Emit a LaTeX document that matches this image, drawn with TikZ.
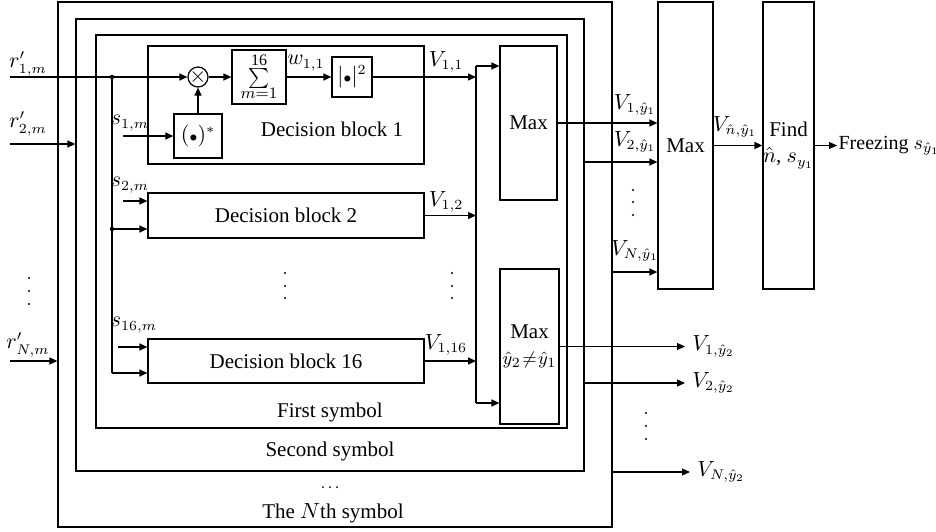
\documentclass[tikz,border=0pt]{standalone}
\usepackage{fontspec}
\setmainfont{Liberation Serif}
\usetikzlibrary{arrows.meta,fit}

\tikzset{
  blk/.style={draw, rectangle, inner sep=0pt},
  arr/.style={-{Triangle[length=4pt,width=3.5pt]}},
}

\begin{document}
\begin{tikzpicture}[x=0.5pt, y=-0.5pt, line width=0.6pt,
    font=\fontsize{10.5}{12}\selectfont]

    % 領域の固定
    \useasboundingbox (0,0) rectangle (936,531);

    % パラメータの定義
    \pgfmathsetmacro{\busx}{476}
    \pgfmathsetmacro{\splitx}{112}

    % 枠の描画
    \node[blk, fit={(58,2) (612,527)}] (nth) {};
    \node[blk, fit={(76,19) (584,471)}] (second) {};
    \node[blk, fit={(96,35) (567,428)}] (first) {};
    \node (nthlbl) at (333,513) {The $N$th symbol};
    \node (secondlbl) at (330,451) {Second symbol};
    \node (firstlbl) at (330,412) {First symbol};

    % ブロックの描画
    \node[blk, fit={(148,46) (424,164)}] (db1) {};
    \node[blk, fit={(148,193) (424,238)}] (db2) {};
    \node[blk, fit={(148,339) (424,383)}] (db16) {};
    \node[blk, fit={(232,50) (286,104)}] (sum) {};
    \node[blk, fit={(332,57) (372,97)}] (abs) {};
    \node[blk, fit={(174,114) (222,158)}] (conj) {};
    \node[draw, circle, minimum size=10pt, inner sep=0pt] (mult) at (198,77) {};
    \node[blk, fit={(500,46) (557,200)}] (max1) {};
    \node[blk, fit={(500,269) (559,424)}] (max2) {};
    \node[blk, fit={(658,2) (713,289)}] (max3) {};
    \node[blk, fit={(763,2) (814,289)}] (find) {};

    % ブロックの文字
    \node (db1lbl) at (332,129) {Decision block 1};
    \node (db2lbl) at (db2.center) {Decision block 2};
    \node (db16lbl) at (db16.center) {Decision block 16};
    \node[inner sep=0pt] (sumtop) at (259,60) {\footnotesize 16};
    \node[inner sep=0pt] (sumsig) at (259,78) {$\sum$};
    \node[inner sep=0pt] (sumbot) at (259,93) {\footnotesize $m{=}1$};
    \node (abslbl) at (abs.center) {$|{\scriptstyle\bullet}|^2$};
    \node (conjlbl) at (conj.center) {$({\scriptstyle\bullet})^*$};
    \node[inner sep=0pt] (multlbl) at (mult.center) {$\times$};
    \node (max1lbl) at (max1.center) {Max};
    \node[align=center, inner sep=0pt] (max2lbl) at (max2.center)
        {Max\\[1pt]\fontsize{9.5}{11}\selectfont$\hat{y}_2\mkern1.5mu{\neq}\mkern1.5mu\hat{y}_1$};
    \node (max3lbl) at (max3.center) {Max};
    \node[align=center, inner sep=0pt] (findlbl) at (find.center)
        {Find\\[1pt]$\hat{n}$, $s_{y_1}$};

    % 点の定義
    \coordinate (r1in) at (10,77);
    \coordinate (r2in) at (10,144);
    \coordinate (rNin) at (10,361);
    \coordinate (j1) at (\splitx,77);
    \coordinate (j2) at (\splitx,229);
    \coordinate (j3) at (\splitx,373);
    \coordinate (s1in) at (123,136);
    \coordinate (s2in) at (123,201);
    \coordinate (s16in) at (118,347);
    \coordinate (bt) at (\busx,66);
    \coordinate (bb) at (\busx,403);
    \coordinate (o2) at (584,162);
    \coordinate (o3) at (612,272);
    \coordinate (p2) at (584,383);
    \coordinate (p3) at (612,472);

    % 出力ラベル
    \node[anchor=west, inner sep=0.5pt, font=\fontsize{10}{12}\selectfont] (frz)
        at (837,145.5) {Freezing $s_{\hat{y}_1}$};
    \node[anchor=west] (v1y2) at (685,346.5) {$V_{1,\hat{y}_2}$};
    \node[anchor=west] (v2y2) at (685,383) {$V_{2,\hat{y}_2}$};
    \node[anchor=west] (vNy2) at (690,472) {$V_{N,\hat{y}_2}$};

    % 入力線の描画
    \draw[arr] (r1in) -- (mult);
    \draw (j1) -- (j3);
    \draw[arr] (j2) -- (j2 -| db2.west);
    \draw[arr] (j3) -- (j3 -| db16.west);
    \draw[arr] (r2in) -- (r2in -| second.west);
    \draw[arr] (rNin) -- (rNin -| nth.west);
    \draw[arr] (s1in) -- (conj);
    \draw[arr] (s2in) -- (s2in -| db2.west);
    \draw[arr] (s16in) -- (s16in -| db16.west);

    % 判定ブロック1の中
    \draw[arr] (conj) -- (mult);
    \draw[arr] (mult) -- (sum);
    \draw[arr] (sum) -- (abs);
    \draw[arr] (abs) -- (abs -| bt);

    % 判定ブロックからMaxへ
    \draw[arr] (db2) -- (db2 -| bt);
    \draw[arr] (db16) -- (db16 -| bt);
    \draw (bt) -- (bb);
    \draw[arr] (bt) -- (bt -| max1.west);
    \draw[arr] (bb) -- (bb -| max2.west);

    % 右側の線
    \draw[arr] (max1) -- (max1 -| max3.west);
    \draw[arr] (o2) -- (o2 -| max3.west);
    \draw[arr] (o3) -- (o3 -| max3.west);
    \draw[arr] (max3) -- (find);
    \draw[arr] (find) -- (frz.west);
    \draw[arr] (max2) -- (v1y2.west);
    \draw[arr] (p2) -- (v2y2.west);
    \draw[arr] (p3) -- (vNy2.west);

    % 分岐点の描画
    \fill (j1) circle (1.1pt);
    \fill (j2) circle (1.1pt);

    % ラベルの描画
    \node (r1lbl) at (28,64) {$r'_{1,m}$};
    \node (r2lbl) at (28,124) {$r'_{2,m}$};
    \node (rNlbl) at (28,345) {$r'_{N,m}$};
    \node (s1lbl) at (130,123) {$s_{1,m}$};
    \node (s2lbl) at (130,185) {$s_{2,m}$};
    \node (s16lbl) at (134,325) {$s_{16,m}$};
    \node (w11) at (306,63) {$w_{1,1}$};
    \node (v11) at (446,62) {$V_{1,1}$};
    \node (v12) at (446,202) {$V_{1,2}$};
    \node (v116) at (446,345) {$V_{1,16}$};
    \node (v1y1) at (635,105) {$V_{1,\hat{y}_1}$};
    \node (v2y1) at (635,142) {$V_{2,\hat{y}_1}$};
    \node (vNy1) at (635,251) {$V_{N,\hat{y}_1}$};
    \node (vny1) at (735,127) {$V_{\hat{n},\hat{y}_1}$};

    % 省略記号の描画
    \foreach \y in {278,291,304} \fill (29,\y) circle (0.6pt);
    \foreach \y in {273,286,298} \fill (285,\y) circle (0.6pt);
    \foreach \y in {273,286,298} \fill (452,\y) circle (0.6pt);
    \foreach \y in {190,202,215} \fill (633,\y) circle (0.6pt);
    \foreach \y in {413,426,439} \fill (646,\y) circle (0.6pt);
    \foreach \x in {323,330,337} \fill (\x,487) circle (0.5pt);

\end{tikzpicture}
\end{document}
